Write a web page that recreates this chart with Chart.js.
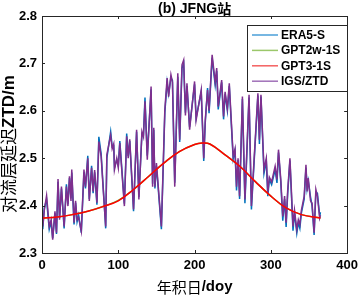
<!DOCTYPE html>
<html>
<head>
<meta charset="utf-8">
<script src="https://cdn.jsdelivr.net/npm/chart.js@4.4.1/dist/chart.umd.min.js"></script>
<style>
html,body{margin:0;padding:0;background:#fff;}
canvas{display:block;}
</style>
</head>
<body>
<canvas id="c" width="363" height="295"></canvas>
<script>
// ---- data ----
const titleText = "(b) JFNG站";
const seriesNames = ["ERA5-S", "GPT2w-1S", "GPT3-1S", "IGS/ZTD"];
const xTicks = [0, 100, 200, 300, 400];
const yTicks = [2.3, 2.4, 2.5, 2.6, 2.7, 2.8];

const days = [1,3,6,9.5,12,14,17,19,21,23,25.5,29,32,34,36,38,39,42,44,46,48,51.5,55,57,60,62,65,67,69,72,
  74.5,77.5,80,83.5,85,90,92,94,95,98,100,102,108,111,113,115,120,124,127,131,133,135,138,143,145,146.5,148,150,156.5,161,
  164,166,169,171,174,178,180.5,183.5,185.7,188,190,193.5,200,202,208.7,212,214,217,219,223,227,229,231,235.5,238,240,243,245.5,250.6,253,
  255,257,259,262.7,266,271.4,274.5,283,285,287,291,294,296,298,301,305.6,308,310,313,315.6,318,320,322,325,329,331,
  334,336,338,340,343.7,346,347.5,349,352,354,356.7,359,361,364,365];

const igsZtd = [2.356,2.39,2.421,2.356,2.37,2.328,2.388,2.343,2.456,2.37,2.44,2.356,2.44,2.399,2.462,2.41,2.476,2.364,2.41,2.37,2.375,2.346,2.476,2.44,2.50,2.41,2.48,2.43,2.475,2.406,
  2.535,2.504,2.44,2.356,2.507,2.549,2.52,2.53,2.476,2.50,2.48,2.532,2.399,2.546,2.50,2.54,2.392,2.56,2.413,2.556,2.545,2.62,2.497,2.651,2.44,2.564,2.44,2.49,2.356,2.602,
  2.669,2.63,2.676,2.66,2.44,2.679,2.539,2.697,2.707,2.59,2.658,2.56,2.662,2.58,2.644,2.50,2.58,2.644,2.60,2.718,2.66,2.69,2.609,2.665,2.588,2.64,2.605,2.658,2.504,2.52,
  2.44,2.50,2.42,2.63,2.413,2.634,2.399,2.637,2.539,2.634,2.476,2.50,2.427,2.46,2.45,2.483,2.455,2.518,2.455,2.377,2.42,2.364,2.43,2.50,2.356,2.39,
  2.349,2.37,2.36,2.39,2.42,2.486,2.43,2.458,2.41,2.405,2.343,2.434,2.42,2.374,2.38];

const era5S = [2.350,2.395,2.412,2.350,2.366,2.331,2.384,2.340,2.450,2.374,2.436,2.352,2.445,2.403,2.458,2.415,2.470,2.360,2.406,2.366,2.380,2.343,2.470,2.436,2.505,2.414,2.484,2.426,2.470,2.402,
  2.545,2.510,2.445,2.352,2.500,2.556,2.524,2.526,2.480,2.497,2.484,2.536,2.404,2.552,2.505,2.536,2.388,2.556,2.418,2.552,2.550,2.628,2.505,2.645,2.446,2.560,2.436,2.484,2.350,2.596,
  2.660,2.636,2.670,2.664,2.448,2.672,2.534,2.690,2.700,2.596,2.652,2.566,2.656,2.585,2.640,2.494,2.575,2.648,2.595,2.712,2.654,2.684,2.603,2.660,2.582,2.636,2.600,2.652,2.498,2.515,
  2.432,2.496,2.414,2.625,2.405,2.628,2.392,2.632,2.530,2.630,2.468,2.494,2.420,2.455,2.444,2.476,2.448,2.512,2.450,2.368,2.414,2.355,2.424,2.495,2.347,2.385,
  2.342,2.364,2.352,2.384,2.414,2.480,2.436,2.452,2.418,2.400,2.338,2.428,2.426,2.378,2.386];

const modelDays = [0,20,40,60,80,100,120,140,160,180,200,210,220,240,260,280,300,320,340,365];
const gpt3 = [2.374,2.376,2.381,2.388,2.398,2.410,2.434,2.462,2.490,2.514,2.529,2.532,2.530,2.507,2.482,2.450,2.420,2.395,2.381,2.374];
const gpt2w = [2.374,2.376,2.381,2.388,2.398,2.411,2.434,2.462,2.490,2.514,2.529,2.532,2.530,2.507,2.482,2.450,2.420,2.395,2.381,2.374];

const colors = ["#0072BD", "#77AC30", "#FF0000", "#7E2F8E"];
const legendColors = ["#4A9FD8", "#9BC76A", "#F46060", "#A070B8"];

function pts(xs, ys){ return xs.map((x,i)=>({x:x, y:ys[i]})); }

const LATIN = '"Liberation Sans", Arial, sans-serif';
const CJK = '"Noto Sans CJK SC", sans-serif';

function drawMixed(ctx, parts, size, cjkWeight){
  const fontOf = p => p[1] ? ((cjkWeight||'normal')+' '+size+'px '+CJK) : ('bold '+size+'px '+LATIN);
  let widths = parts.map(p=>{ ctx.font = fontOf(p); return ctx.measureText(p[0]).width; });
  const total = widths.reduce((a,b)=>a+b,0);
  let x = -total/2;
  parts.forEach((p,i)=>{ ctx.font = fontOf(p); ctx.fillText(p[0], x, 0); x += widths[i]; });
}

const decor = {
  id: 'decor',
  afterDraw(chart){
    const ctx = chart.ctx, ca = chart.chartArea;
    const xs = chart.scales.x, ys = chart.scales.y;
    ctx.save();
    ctx.strokeStyle = '#262626';
    ctx.lineWidth = 1;
    ctx.strokeRect(Math.round(ca.left)+0.5, Math.round(ca.top)+0.5, Math.round(ca.right-ca.left), Math.round(ca.bottom-ca.top));
    ctx.beginPath();
    xTicks.forEach(v=>{
      const px = Math.round(xs.getPixelForValue(v))+0.5;
      ctx.moveTo(px, ca.bottom); ctx.lineTo(px, ca.bottom-3);
      ctx.moveTo(px, ca.top); ctx.lineTo(px, ca.top+3);
    });
    yTicks.forEach(v=>{
      const py = Math.round(ys.getPixelForValue(v))+0.5;
      ctx.moveTo(ca.left, py); ctx.lineTo(ca.left+3, py);
      ctx.moveTo(ca.right, py); ctx.lineTo(ca.right-3, py);
    });
    ctx.stroke();

    ctx.fillStyle = '#000';
    ctx.textBaseline = 'middle';
    ctx.textAlign = 'left';
    // title
    ctx.save();
    ctx.translate((ca.left+ca.right)/2, 9);
    drawMixed(ctx, [["(b) JFNG", false], ["站", true]], 14, 'bold');
    ctx.restore();

    // x title
    ctx.save();
    ctx.translate((ca.left+ca.right)/2, 287);
    drawMixed(ctx, [["年积日", true], ["/doy", false]], 15);
    ctx.restore();

    // y title
    ctx.save();
    ctx.translate(9, 144);
    ctx.rotate(-Math.PI/2);
    drawMixed(ctx, [["对流层延迟", true], ["ZTD/m", false]], 17);
    ctx.restore();

    // legend
    const bx = 247.5, by = 25.5, bw = 100, bh = 66;
    ctx.fillStyle = '#fff';
    ctx.fillRect(bx, by, bw, bh);
    ctx.strokeStyle = '#262626';
    ctx.strokeRect(bx, by, bw, bh);
    ctx.font = 'bold 12px ' + LATIN;
    ctx.textBaseline = 'middle';
    seriesNames.forEach((n,i)=>{
      const yy = 35 + i*15.4;
      ctx.strokeStyle = legendColors[i];
      ctx.lineWidth = 1.5;
      ctx.beginPath(); ctx.moveTo(252, yy); ctx.lineTo(278, yy); ctx.stroke();
      ctx.fillStyle = '#000';
      ctx.fillText(n, 281, yy+0.5);
    });
    ctx.restore();
  }
};

new Chart(document.getElementById('c'), {
  type: 'line',
  data: {
    datasets: [
      {label: seriesNames[0], data: pts(days, era5S), borderColor: colors[0], borderWidth: 1.5, pointRadius: 0, tension: 0, order: 3},
      {label: seriesNames[1], data: pts(modelDays, gpt2w), borderColor: colors[1], borderWidth: 1.5, pointRadius: 0, tension: 0.4, order: 2},
      {label: seriesNames[2], data: pts(modelDays, gpt3), borderColor: colors[2], borderWidth: 1.5, pointRadius: 0, tension: 0.4, order: 0},
      {label: seriesNames[3], data: pts(days, igsZtd), borderColor: colors[3], borderWidth: 1.5, pointRadius: 0, tension: 0, order: 1}
    ]
  },
  options: {
    responsive: false,
    animation: false,
    devicePixelRatio: 1,
    layout: {padding: {top: 16, right: 13, left: 0, bottom: 0}},
    plugins: {legend: {display: false}, tooltip: {enabled: false}, title: {display: false}},
    scales: {
      x: {
        type: 'linear', min: 0, max: 400,
        grid: {display: false, drawTicks: false},
        border: {display: false},
        ticks: {stepSize: 100, maxRotation: 0, padding: 5, color: '#000', font: {family: LATIN, size: 13, weight: 'bold'}},
        afterFit(s){ s.height = 42; }
      },
      y: {
        type: 'linear', min: 2.3, max: 2.8,
        grid: {display: false, drawTicks: false},
        border: {display: false},
        ticks: {stepSize: 0.1, padding: 5, color: '#000', font: {family: LATIN, size: 13, weight: 'bold'}, callback: v => Number(v).toFixed(1)},
        afterFit(s){ s.width = 42; }
      }
    }
  },
  plugins: [decor]
});
</script>
</body>
</html>
